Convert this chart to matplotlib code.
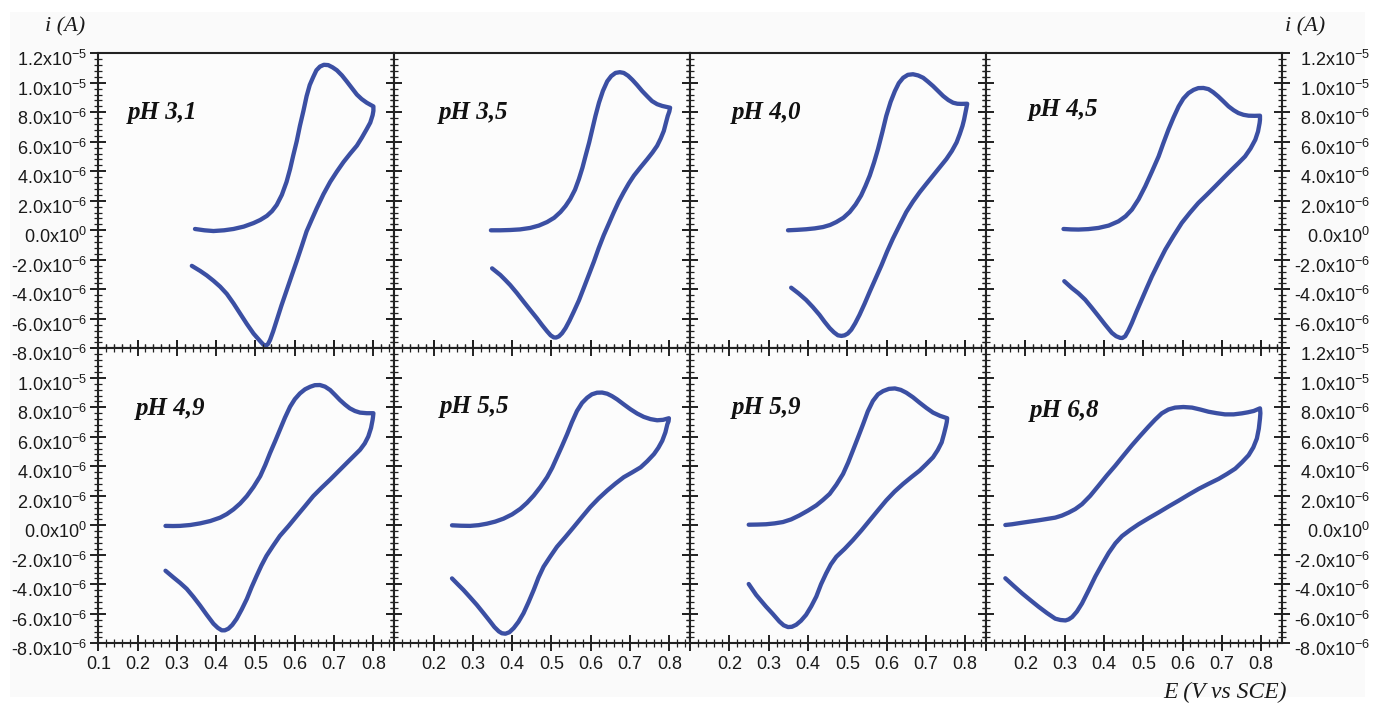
import numpy as np
import matplotlib
matplotlib.use('Agg')
import matplotlib.pyplot as plt
from matplotlib.ticker import FixedLocator, MultipleLocator
from matplotlib.patches import Rectangle
import matplotlib.transforms as mtransforms

plt.rcParams['font.family'] = ['Liberation Sans', 'DejaVu Sans']
plt.rcParams['mathtext.fontset'] = 'custom'
plt.rcParams['mathtext.rm'] = 'Liberation Sans'
plt.rcParams['mathtext.it'] = 'Liberation Sans:italic'
plt.rcParams['mathtext.default'] = 'regular'
plt.rcParams['xtick.labelsize'] = 13
plt.rcParams['ytick.labelsize'] = 13

# ---------------- data (E in V vs SCE, i in 1e-6 A) ----------------
PH_LABELS = ['pH 3,1', 'pH 3,5', 'pH 4,0', 'pH 4,5',
             'pH 4,9', 'pH 5,5', 'pH 5,9', 'pH 6,8']
LABEL_X = [0.176, 0.213, 0.207, 0.209, 0.196, 0.217, 0.207, 0.210]
LABEL_Y = [8.0, 8.0, 8.0, 8.2, 7.95, 8.05, 8.0, 7.8]

E_PH31 = [0.346, 0.370, 0.393, 0.420, 0.444, 0.470, 0.495, 0.512, 0.529, 0.542,
          0.554, 0.567, 0.579, 0.588, 0.596, 0.605, 0.613, 0.622, 0.630, 0.638,
          0.647, 0.655, 0.664, 0.674, 0.685, 0.696, 0.707, 0.720, 0.732, 0.745,
          0.758, 0.770, 0.783, 0.793, 0.800,
          0.800, 0.798, 0.792, 0.783, 0.771, 0.758, 0.741, 0.724, 0.707, 0.690,
          0.673, 0.656, 0.643, 0.630, 0.618, 0.605, 0.592, 0.579, 0.566, 0.554,
          0.545, 0.537, 0.532, 0.527, 0.520, 0.512, 0.495, 0.478, 0.461, 0.444,
          0.427, 0.410, 0.393, 0.376, 0.359, 0.338]
I_PH31 = [0.09, 0.0, -0.05, 0.0, 0.09, 0.25, 0.49, 0.70, 0.98, 1.30,
          1.72, 2.40, 3.28, 4.15, 5.07, 6.05, 7.08, 8.1, 9.09, 9.85,
          10.4, 10.85, 11.1, 11.22, 11.2, 11.05, 10.85, 10.5, 10.1, 9.65,
          9.2, 8.9, 8.65, 8.5, 8.4,
          8.1, 7.8, 7.3, 6.86, 6.3, 5.74, 5.2, 4.63, 3.98, 3.28,
          2.45, 1.50, 0.72, -0.07, -1.05, -2.08, -3.08, -4.09, -5.1, -6.10,
          -6.85, -7.44, -7.7, -7.82, -7.75, -7.52, -7.0, -6.35, -5.65, -4.95,
          -4.31, -3.82, -3.42, -3.06, -2.75, -2.41]

E_PH35 = [0.346, 0.370, 0.395, 0.420, 0.446, 0.468, 0.489, 0.507, 0.523, 0.536,
          0.548, 0.560, 0.570, 0.579, 0.587, 0.596, 0.604, 0.612, 0.621, 0.631,
          0.642, 0.652, 0.663, 0.674, 0.684, 0.695, 0.706, 0.718, 0.731, 0.744,
          0.756, 0.769, 0.782, 0.802,
          0.800, 0.796, 0.791, 0.786, 0.778, 0.769, 0.757, 0.744, 0.727, 0.710,
          0.697, 0.684, 0.671, 0.659, 0.646, 0.633, 0.620, 0.608, 0.595, 0.582,
          0.570, 0.557, 0.546, 0.536, 0.527, 0.519, 0.512, 0.506, 0.498, 0.489,
          0.476, 0.463, 0.446, 0.429, 0.412, 0.395, 0.382, 0.370, 0.349]
I_PH35 = [0.0, 0.0, 0.02, 0.06, 0.16, 0.32, 0.56, 0.85, 1.24, 1.65,
          2.13, 2.75, 3.48, 4.25, 5.06, 5.95, 6.85, 7.75, 8.65, 9.45,
          10.1, 10.45, 10.67, 10.72, 10.67, 10.48, 10.2, 9.85, 9.44, 9.08,
          8.76, 8.55, 8.43, 8.31,
          8.05, 7.75, 7.25, 6.74, 6.22, 5.73, 5.27, 4.83, 4.28, 3.71,
          3.18, 2.58, 1.93, 1.24, 0.45, -0.34, -1.23, -2.13, -3.03, -3.93,
          -4.75, -5.51, -6.13, -6.63, -6.98, -7.19, -7.27, -7.26, -7.12, -6.85,
          -6.42, -5.96, -5.40, -4.83, -4.25, -3.71, -3.35, -3.03, -2.58]

E_PH40 = [0.349, 0.372, 0.395, 0.417, 0.438, 0.456, 0.472, 0.490, 0.506, 0.521,
          0.535, 0.546, 0.557, 0.568, 0.578, 0.589, 0.599, 0.610, 0.621, 0.631,
          0.642, 0.654, 0.667, 0.680, 0.693, 0.705, 0.718, 0.731, 0.744, 0.757,
          0.769, 0.780, 0.790, 0.805,
          0.803, 0.800, 0.797, 0.793, 0.786, 0.778, 0.766, 0.752, 0.735, 0.718,
          0.701, 0.684, 0.667, 0.650, 0.633, 0.616, 0.601, 0.587, 0.572, 0.557,
          0.544, 0.531, 0.520, 0.510, 0.501, 0.493, 0.485, 0.476, 0.466, 0.455,
          0.442, 0.429, 0.412, 0.395, 0.376, 0.357]
I_PH40 = [0.0, 0.03, 0.07, 0.13, 0.22, 0.36, 0.56, 0.85, 1.24, 1.75,
          2.36, 3.0, 3.71, 4.6, 5.51, 6.65, 7.75, 8.7, 9.44, 9.98,
          10.34, 10.54, 10.58, 10.5, 10.34, 10.08, 9.78, 9.44, 9.10, 8.83,
          8.65, 8.58, 8.57, 8.58,
          8.3, 7.9, 7.5, 7.08, 6.52, 5.96, 5.38, 4.83, 4.27, 3.71,
          3.15, 2.58, 1.95, 1.24, 0.35, -0.56, -1.45, -2.36, -3.26, -4.16,
          -4.97, -5.73, -6.30, -6.74, -7.0, -7.12, -7.16, -7.12, -6.92, -6.63,
          -6.2, -5.73, -5.2, -4.72, -4.28, -3.89]

E_PH45 = [0.297, 0.316, 0.335, 0.360, 0.386, 0.412, 0.437, 0.455, 0.471, 0.488,
          0.505, 0.522, 0.539, 0.551, 0.564, 0.577, 0.590, 0.602, 0.615, 0.628,
          0.640, 0.653, 0.666, 0.678, 0.691, 0.704, 0.717, 0.730, 0.742, 0.755,
          0.768, 0.783, 0.797,
          0.797, 0.796, 0.792, 0.785, 0.773, 0.759, 0.742, 0.725, 0.704, 0.683,
          0.662, 0.640, 0.619, 0.598, 0.577, 0.556, 0.539, 0.522, 0.509, 0.496,
          0.483, 0.471, 0.462, 0.454, 0.447, 0.441, 0.431, 0.420, 0.403, 0.386,
          0.369, 0.352, 0.335, 0.318, 0.299]
I_PH45 = [0.09, 0.06, 0.05, 0.08, 0.16, 0.32, 0.61, 0.95, 1.40, 2.1,
          2.98, 3.98, 5.01, 5.9, 6.82, 7.65, 8.40, 8.93, 9.30, 9.52,
          9.64, 9.65, 9.57, 9.36, 9.07, 8.74, 8.40, 8.14, 7.95, 7.83,
          7.77, 7.76, 7.77,
          7.5, 7.27, 6.7, 6.14, 5.55, 5.01, 4.55, 4.11, 3.55, 2.98,
          2.42, 1.85, 1.2, 0.50, -0.38, -1.31, -2.2, -3.12, -3.9, -4.70,
          -5.5, -6.28, -6.8, -7.18, -7.3, -7.29, -7.18, -6.95, -6.4, -5.82,
          -5.25, -4.70, -4.27, -3.91, -3.45]

E_PH49 = [0.271, 0.290, 0.308, 0.334, 0.359, 0.385, 0.410, 0.427, 0.444, 0.461,
          0.478, 0.495, 0.512, 0.525, 0.537, 0.550, 0.562, 0.575, 0.588, 0.600,
          0.613, 0.626, 0.639, 0.651, 0.664, 0.677, 0.690, 0.702, 0.715, 0.728,
          0.740, 0.753, 0.766, 0.783, 0.800,
          0.799, 0.798, 0.794, 0.787, 0.778, 0.766, 0.749, 0.732, 0.711, 0.690,
          0.668, 0.647, 0.626, 0.605, 0.584, 0.562, 0.545, 0.528, 0.515, 0.503,
          0.490, 0.478, 0.465, 0.452, 0.441, 0.431, 0.422, 0.414, 0.404, 0.393,
          0.376, 0.359, 0.342, 0.325, 0.308, 0.291, 0.271]
I_PH49 = [-0.04, -0.05, -0.04, 0.02, 0.13, 0.29, 0.52, 0.76, 1.08, 1.48,
          1.98, 2.6, 3.33, 4.1, 4.90, 5.7, 6.47, 7.3, 8.04, 8.55,
          8.94, 9.22, 9.39, 9.5, 9.51, 9.4, 9.17, 8.85, 8.49, 8.18,
          7.93, 7.75, 7.64, 7.6, 7.60,
          7.35, 7.15, 6.6, 6.02, 5.55, 5.12, 4.67, 4.22, 3.66, 3.10,
          2.54, 1.98, 1.3, 0.63, -0.05, -0.72, -1.38, -2.07, -2.73, -3.42,
          -4.2, -4.99, -5.7, -6.34, -6.75, -7.01, -7.12, -7.12, -6.95, -6.67,
          -6.07, -5.44, -4.85, -4.31, -3.9, -3.53, -3.08]

E_PH55 = [0.247, 0.270, 0.293, 0.315, 0.336, 0.357, 0.378, 0.400, 0.421, 0.438,
          0.455, 0.472, 0.489, 0.502, 0.514, 0.527, 0.540, 0.552, 0.565, 0.578,
          0.591, 0.603, 0.616, 0.629, 0.642, 0.654, 0.667, 0.684, 0.701, 0.718,
          0.735, 0.752, 0.769, 0.784, 0.799,
          0.798, 0.795, 0.790, 0.782, 0.772, 0.761, 0.744, 0.727, 0.705, 0.684,
          0.663, 0.642, 0.620, 0.599, 0.578, 0.557, 0.536, 0.514, 0.497, 0.480,
          0.467, 0.455, 0.442, 0.429, 0.416, 0.404, 0.393, 0.383, 0.374, 0.366,
          0.355, 0.344, 0.327, 0.310, 0.293, 0.276, 0.261, 0.247]
I_PH55 = [0.0, -0.03, -0.04, 0.01, 0.11, 0.25, 0.45, 0.74, 1.12, 1.53,
          2.02, 2.6, 3.26, 3.9, 4.61, 5.38, 6.18, 6.98, 7.75, 8.3,
          8.65, 8.88, 8.99, 9.0, 8.92, 8.76, 8.54, 8.2, 7.87, 7.58,
          7.35, 7.2, 7.12, 7.15, 7.26,
          7.05, 6.85, 6.3, 5.73, 5.25, 4.83, 4.35, 3.93, 3.58, 3.26,
          2.83, 2.36, 1.82, 1.24, 0.57, -0.11, -0.78, -1.46, -2.12, -2.81,
          -3.55, -4.38, -5.2, -5.96, -6.55, -6.97, -7.25, -7.35, -7.32, -7.19,
          -6.9, -6.52, -5.95, -5.39, -4.88, -4.38, -3.98, -3.60]

E_PH59 = [0.249, 0.271, 0.293, 0.315, 0.336, 0.357, 0.378, 0.400, 0.421, 0.438,
          0.455, 0.472, 0.489, 0.502, 0.514, 0.527, 0.540, 0.552, 0.565, 0.578,
          0.591, 0.606, 0.621, 0.636, 0.650, 0.667, 0.684, 0.701, 0.718, 0.736,
          0.754,
          0.753, 0.751, 0.746, 0.740, 0.730, 0.718, 0.701, 0.684, 0.663, 0.642,
          0.620, 0.599, 0.578, 0.557, 0.536, 0.514, 0.493, 0.472, 0.458, 0.446,
          0.433, 0.421, 0.408, 0.395, 0.382, 0.370, 0.359, 0.349, 0.338, 0.327,
          0.310, 0.293, 0.280, 0.268, 0.249]
I_PH59 = [0.04, 0.05, 0.07, 0.13, 0.22, 0.40, 0.67, 1.0, 1.35, 1.72,
          2.13, 2.75, 3.48, 4.25, 5.06, 5.95, 6.85, 7.72, 8.43, 8.88,
          9.10, 9.25, 9.28, 9.18, 8.99, 8.68, 8.31, 7.96, 7.64, 7.42,
          7.26,
          7.0, 6.74, 6.2, 5.62, 5.1, 4.61, 4.15, 3.71, 3.27, 2.81,
          2.28, 1.69, 1.02, 0.34, -0.34, -1.01, -1.6, -2.13, -2.65, -3.26,
          -4.0, -4.83, -5.5, -6.07, -6.47, -6.74, -6.88, -6.90, -6.78, -6.52,
          -6.0, -5.51, -5.1, -4.72, -3.98]

E_PH68 = [0.149, 0.166, 0.183, 0.208, 0.234, 0.255, 0.276, 0.293, 0.310, 0.327,
          0.344, 0.365, 0.386, 0.407, 0.429, 0.450, 0.471, 0.492, 0.513, 0.530,
          0.547, 0.564, 0.581, 0.602, 0.624, 0.645, 0.666, 0.687, 0.708, 0.730,
          0.751, 0.766, 0.781, 0.797,
          0.798, 0.797, 0.794, 0.789, 0.780, 0.768, 0.751, 0.734, 0.713, 0.692,
          0.666, 0.641, 0.615, 0.590, 0.564, 0.539, 0.513, 0.488, 0.467, 0.446,
          0.429, 0.412, 0.395, 0.378, 0.361, 0.344, 0.331, 0.319, 0.310, 0.302,
          0.289, 0.276, 0.255, 0.234, 0.213, 0.192, 0.170, 0.149]
I_PH68 = [0.02, 0.07, 0.14, 0.24, 0.34, 0.43, 0.52, 0.66, 0.86, 1.10,
          1.43, 2.0, 2.68, 3.37, 4.05, 4.74, 5.42, 6.06, 6.68, 7.16,
          7.59, 7.85, 7.98, 8.02, 7.98, 7.85, 7.70, 7.6, 7.52, 7.52,
          7.59, 7.66, 7.75, 7.93,
          7.6, 7.25, 6.55, 5.88, 5.28, 4.75, 4.27, 3.84, 3.48, 3.15,
          2.81, 2.47, 2.07, 1.67, 1.27, 0.87, 0.47, 0.07, -0.31, -0.73,
          -1.22, -1.87, -2.65, -3.47, -4.4, -5.30, -5.85, -6.22, -6.38, -6.45,
          -6.42, -6.33, -5.95, -5.53, -5.08, -4.62, -4.1, -3.59]

E_SERIES = [E_PH31, E_PH35, E_PH40, E_PH45, E_PH49, E_PH55, E_PH59, E_PH68]
I_SERIES = [I_PH31, I_PH35, I_PH40, I_PH45, I_PH49, I_PH55, I_PH59, I_PH68]

X_TICKS = [0.1, 0.2, 0.3, 0.4, 0.5, 0.6, 0.7, 0.8]
X_TICK_LABELS = ['0.1', '0.2', '0.3', '0.4', '0.5', '0.6', '0.7', '0.8']
Y_TICKS = [1.2e-5, 1.0e-5, 8e-6, 6e-6, 4e-6, 2e-6, 0.0,
           -2e-6, -4e-6, -6e-6, -8e-6]
Y_TICK_LABELS = [r'1.2x10$^{-5}$', r'1.0x10$^{-5}$', r'8.0x10$^{-6}$',
                 r'6.0x10$^{-6}$', r'4.0x10$^{-6}$', r'2.0x10$^{-6}$',
                 r'0.0x10$^{0}$', r'-2.0x10$^{-6}$', r'-4.0x10$^{-6}$',
                 r'-6.0x10$^{-6}$', r'-8.0x10$^{-6}$']

# ---------------- figure ----------------
W, H = 1375, 705
fig = plt.figure(figsize=(W / 100, H / 100), dpi=100)
fig.patch.set_facecolor('white')
fig.patches.append(Rectangle((10 / W, 8 / H), 1355 / W, 685 / H,
                             transform=fig.transFigure, facecolor='#fafafa',
                             edgecolor='none', zorder=-10))

axes = fig.subplots(2, 4, gridspec_kw=dict(left=98.3 / W, right=1282 / W,
                                          top=1 - 53.3 / H, bottom=1 - 643.3 / H,
                                          wspace=0, hspace=0))

LINE_COLOR = '#3b4fa3'
AX_COLOR = '#222222'
TICK_FS = 13

for k in range(8):
    row, col = divmod(k, 4)
    ax = axes[row, col]
    ax.set_facecolor('#fcfcfc')
    ax.plot(E_SERIES[k], np.array(I_SERIES[k]) * 1e-6, color=LINE_COLOR,
            lw=3.1, solid_capstyle='round', solid_joinstyle='round', zorder=3)
    ax.set_xlim(0.1, 0.853)
    ax.set_ylim(-8e-6, 1.2e-5)
    for s in ax.spines.values():
        s.set_linewidth(1.5)
        s.set_color(AX_COLOR)

    ax.xaxis.set_major_locator(FixedLocator(X_TICKS))
    ax.xaxis.set_minor_locator(MultipleLocator(0.02))
    ax.yaxis.set_major_locator(FixedLocator(Y_TICKS))
    ax.yaxis.set_minor_locator(MultipleLocator(4e-7))

    ax.tick_params(which='both', direction='inout', color=AX_COLOR,
                   left=True, right=True, bottom=True, top=(row == 1),
                   labelleft=(col == 0), labelright=(col == 3),
                   labelbottom=(row == 1), labeltop=False,
                   labelcolor='#1a1a1a')
    ax.tick_params(which='major', length=12, width=1.4)
    ax.tick_params(which='minor', length=6, width=0.9)
    ax.tick_params(axis='x', which='major', pad=3)
    ax.tick_params(axis='y', which='major', pad=2)
    if col == 3:
        ax.tick_params(axis='y', which='major', pad=57.5)

    xl = list(X_TICK_LABELS)
    if col != 0:
        xl[0] = ''
    ax.set_xticklabels(xl, fontsize=TICK_FS)

    yl = list(Y_TICK_LABELS)
    if col == 0 and row == 1:
        yl[0] = ''
    if col == 3 and row == 0:
        yl[-1] = ''
    ax.set_yticklabels(yl, fontsize=TICK_FS)

    ax.text(LABEL_X[k], LABEL_Y[k] * 1e-6, PH_LABELS[k],
            family='Liberation Serif', style='italic', weight='bold',
            fontsize=18, color='#111111', ha='left', va='center', zorder=4)

# shift y tick labels slightly downward, right-align right-side labels
down = mtransforms.ScaledTranslation(0, -5 / 100, fig.dpi_scale_trans)
for k in range(8):
    row, col = divmod(k, 4)
    ax = axes[row, col]
    for t in ax.yaxis.get_major_ticks():
        t.label1.set_transform(t.label1.get_transform() + down)
        t.label2.set_transform(t.label2.get_transform() + down)
        t.label2.set_horizontalalignment('right')
        t.label1.set_fontsize(TICK_FS)
        t.label2.set_fontsize(TICK_FS)

fig.text(65 / W, 1 - 27 / H, 'i (A)', family='Liberation Serif',
         style='italic', fontsize=16, ha='center', va='center', color='#1a1a1a')
fig.text(1305 / W, 1 - 27 / H, 'i (A)', family='Liberation Serif',
         style='italic', fontsize=16, ha='center', va='center', color='#1a1a1a')
fig.text(1225 / W, 1 - 692 / H, 'E (V vs SCE)', family='Liberation Serif',
         style='italic', fontsize=17, ha='center', va='center', color='#1a1a1a')

fig.savefig('out.png', dpi=100, facecolor=fig.get_facecolor())
